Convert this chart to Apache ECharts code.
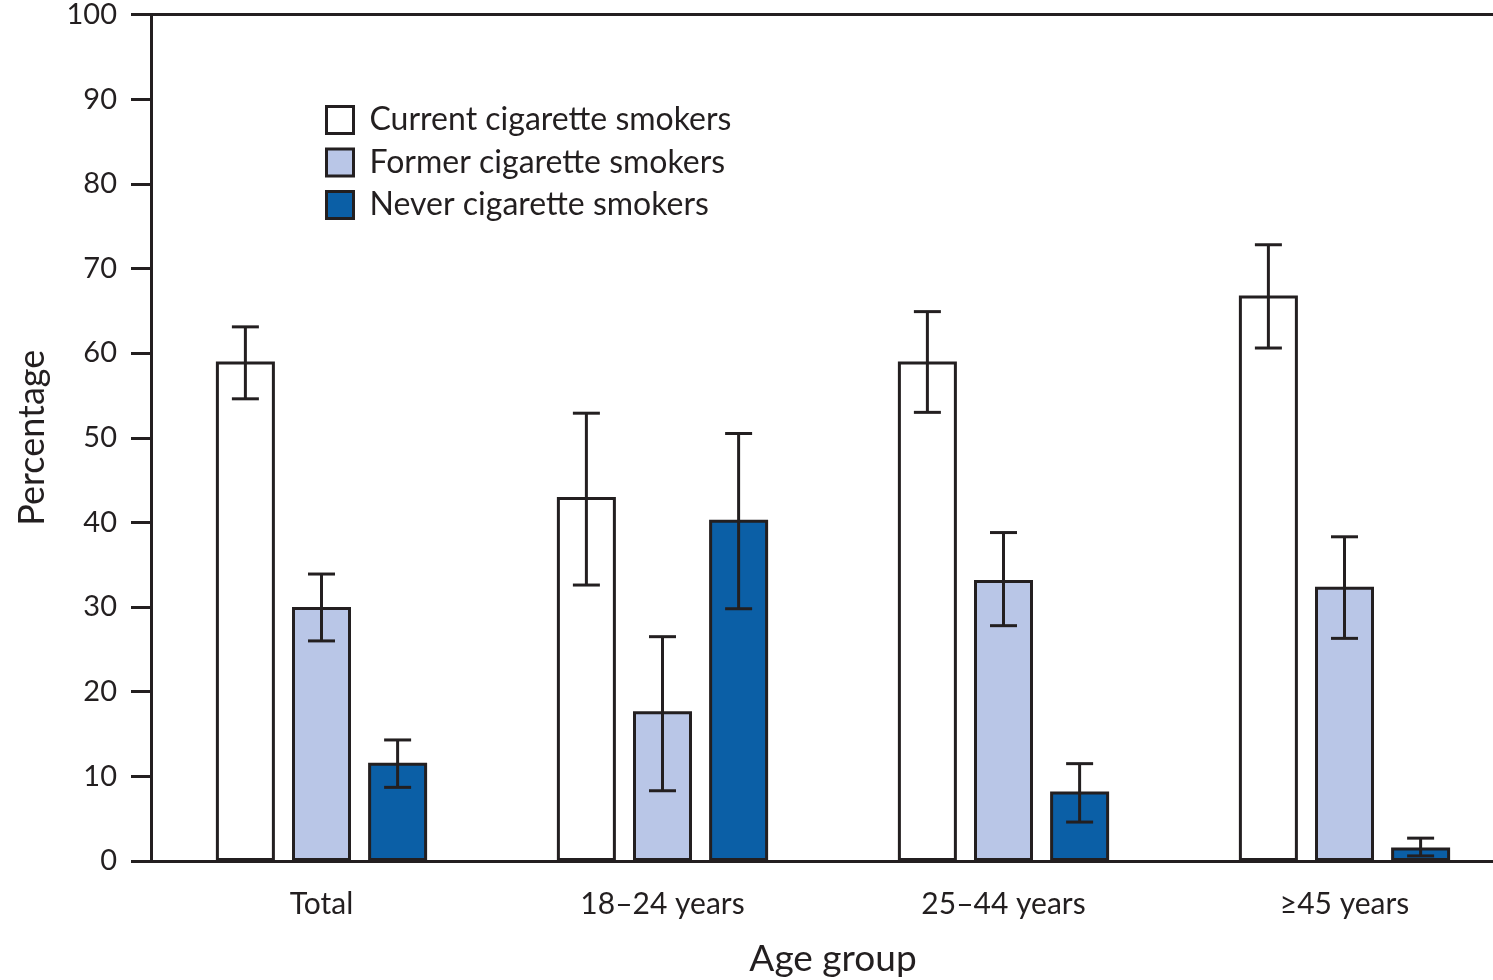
<!DOCTYPE html>
<html>
<head>
<meta charset="utf-8">
<script src="https://cdn.jsdelivr.net/npm/echarts@6/dist/echarts.min.js"></script>
<style>
  html, body { margin: 0; padding: 0; background: #fff; }
  #chart { width: 1493px; height: 980px; }
</style>
</head>
<body>
<div id="chart"></div>
<script>
// Age groups on the x axis
const ageGroups = ['Total', '18\u201324 years', '25\u201344 years', '\u226545 years'];

// Percentages with 95% confidence limits, one array per smoking status
const currentSmokers = [59.0, 43.0, 59.0, 66.8];
const currentLow     = [54.6, 32.6, 53.0, 60.6];
const currentHigh    = [63.1, 52.9, 64.9, 72.8];

const formerSmokers  = [30.0, 17.7, 33.2, 32.4];
const formerLow      = [26.0, 8.3, 27.8, 26.3];
const formerHigh     = [33.9, 26.5, 38.8, 38.3];

const neverSmokers   = [11.6, 40.3, 8.2, 1.6];
const neverLow       = [8.7, 29.8, 4.6, 0.6];
const neverHigh      = [14.3, 50.5, 11.5, 2.7];

const yTicks = [0, 10, 20, 30, 40, 50, 60, 70, 80, 90, 100];

const FONT = 'Lato, "Open Sans", sans-serif';
const TEXT = '#231f20';
const BAR_W = 59;
const BAR_GAP = 0.29;
const STEP = BAR_W * (1 + BAR_GAP);

const seriesDefs = [
  { name: 'Current cigarette smokers', values: currentSmokers, low: currentLow, high: currentHigh, color: '#ffffff' },
  { name: 'Former cigarette smokers',  values: formerSmokers,  low: formerLow,  high: formerHigh,  color: '#b9c6e7' },
  { name: 'Never cigarette smokers',   values: neverSmokers,   low: neverLow,   high: neverHigh,   color: '#0b5fa6' }
];

function errorBarSeries(def, idx) {
  const offset = (idx - 1) * STEP;
  return {
    type: 'custom',
    name: def.name + ' CI',
    z: 10,
    silent: true,
    data: ageGroups.map((_, i) => [i, def.low[i], def.high[i]]),
    renderItem: function (params, api) {
      const lo = api.coord([api.value(0), api.value(1)]);
      const hi = api.coord([api.value(0), api.value(2)]);
      const x = lo[0] + offset;
      const cap = 13.5;
      const style = { stroke: '#231f20', lineWidth: 3, fill: null };
      return {
        type: 'group',
        children: [
          { type: 'line', shape: { x1: x, y1: lo[1], x2: x, y2: hi[1] }, style: style },
          { type: 'line', shape: { x1: x - cap, y1: hi[1], x2: x + cap, y2: hi[1] }, style: style },
          { type: 'line', shape: { x1: x - cap, y1: lo[1], x2: x + cap, y2: lo[1] }, style: style }
        ]
      };
    }
  };
}

const chart = echarts.init(document.getElementById('chart'), null, { renderer: 'canvas' });

chart.setOption({
  backgroundColor: '#ffffff',
  animation: false,
  textStyle: { fontFamily: FONT, color: TEXT },
  grid: { left: 151, right: -22, top: 14.5, bottom: 119, containLabel: false, outerBoundsMode: 'none' },
  legend: {
    orient: 'vertical',
    left: 320,
    top: 99,
    icon: 'rect',
    itemWidth: 27,
    itemHeight: 27,
    itemGap: 10.5,
    itemStyle: { borderWidth: 3, borderColor: '#231f20' },
    data: seriesDefs.map(d => d.name),
    textStyle: { fontFamily: FONT, fontSize: 32, lineHeight: 31, color: TEXT, padding: [0, 0, 0, 11] }
  },
  xAxis: [
    {
      type: 'category',
      data: ageGroups,
      name: 'Age group',
      nameLocation: 'middle',
      nameGap: 80,
      nameTextStyle: { fontFamily: FONT, fontSize: 37, color: TEXT },
      axisLine: { show: true, lineStyle: { color: '#231f20', width: 3 } },
      axisTick: { show: false },
      axisLabel: { fontFamily: FONT, fontSize: 30, color: TEXT, margin: 28 }
    },
    {
      type: 'category',
      position: 'top',
      data: ageGroups,
      axisLine: { show: true, lineStyle: { color: '#231f20', width: 3 } },
      axisTick: { show: false },
      axisLabel: { show: false }
    }
  ],
  yAxis: {
    type: 'value',
    min: yTicks[0],
    max: yTicks[yTicks.length - 1],
    interval: 10,
    name: 'Percentage',
    nameLocation: 'middle',
    nameGap: 101,
    nameTextStyle: { fontFamily: FONT, fontSize: 36, color: TEXT },
    axisLine: { show: true, lineStyle: { color: '#231f20', width: 3 } },
    axisTick: { show: true, length: 20, lineStyle: { color: '#231f20', width: 3 } },
    axisLabel: { fontFamily: FONT, fontSize: 29, color: TEXT, margin: 34 },
    splitLine: { show: false }
  },
  series: seriesDefs.map(d => ({
    type: 'bar',
    name: d.name,
    data: d.values,
    barWidth: BAR_W,
    barGap: (BAR_GAP * 100) + '%',
    itemStyle: { color: d.color, borderColor: '#231f20', borderWidth: 3 }
  })).concat(seriesDefs.map(errorBarSeries))
});
</script>
</body>
</html>
